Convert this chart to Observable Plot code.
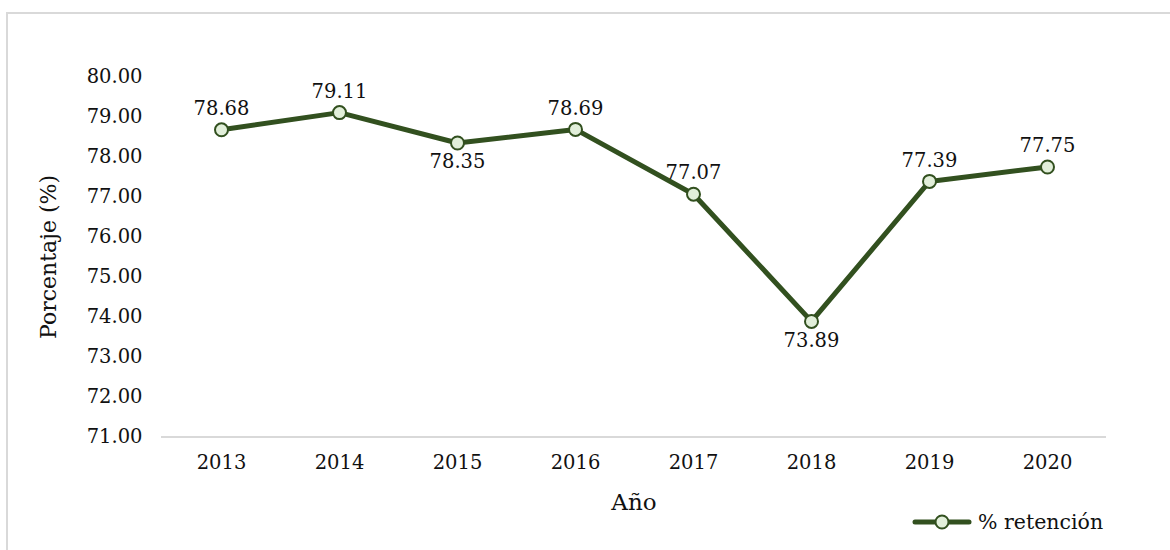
<!DOCTYPE html>
<html>
<head>
<meta charset="utf-8">
<script src="https://cdn.jsdelivr.net/npm/d3@7"></script>
<script src="https://cdn.jsdelivr.net/npm/@observablehq/plot@0.6"></script>
<style>
  body { margin: 0; background: #fff; }
  #wrap { position: relative; width: 1170px; height: 550px; overflow: hidden; font-family: "DejaVu Serif", serif; background: #fff; }
  #frame { position: absolute; left: 6px; top: 12px; width: 1400px; height: 800px; border: 2px solid #d9d9d9; box-sizing: border-box; }
  #chart { position: absolute; left: 0; top: 0; }
  #legend { position: absolute; left: 912px; top: 510px; display: flex; align-items: center; font-size: 20.5px; color: #111; white-space: nowrap; }
  #legend svg { margin-right: 6px; }
</style>
</head>
<body>
<div id="wrap">
  <div id="frame"></div>
  <div id="chart"></div>
  <div id="legend"></div>
</div>
<script>
const years = ["2013", "2014", "2015", "2016", "2017", "2018", "2019", "2020"];
const retention = [78.68, 79.11, 78.35, 78.69, 77.07, 73.89, 77.39, 77.75];
const labelSide = ["top", "top", "bottom", "top", "top", "bottom", "top", "top"];
const yTicks = [71, 72, 73, 74, 75, 76, 77, 78, 79, 80];
const seriesName = "% retención";
const xTitle = "Año";
const yTitle = "Porcentaje (%)";

const lineColor = "#32501f";
const markerFill = "#e2efda";

const data = years.map((year, i) => ({ year, value: retention[i], side: labelSide[i] }));

const chart = Plot.plot({
  width: 1170,
  height: 550,
  marginLeft: 161,
  marginRight: 64,
  marginTop: 76.5,
  marginBottom: 113.5,
  style: { fontFamily: "DejaVu Serif, serif", fontSize: "19.5px", color: "#111", background: "transparent", overflow: "visible" },
  x: { type: "point", domain: years, padding: 0.5 },
  y: { domain: [71, 80] },
  marks: [
    Plot.ruleY([71], { stroke: "#d9d9d9", strokeWidth: 2 }),
    Plot.axisY({ ticks: yTicks, tickSize: 0, tickPadding: 19, tickFormat: d => d.toFixed(2), label: null, fontSize: 19.5 }),
    Plot.axisX({ tickSize: 0, tickPadding: 18, label: null, fontSize: 19.5 }),
    Plot.text([xTitle], { frameAnchor: "bottom", dy: 66, lineAnchor: "middle", fontSize: 23, fill: "#111" }),
    Plot.text([yTitle], { frameAnchor: "left", dx: -113, rotate: -90, textAnchor: "middle", lineAnchor: "middle", fontSize: 22, fill: "#111" }),
    Plot.line(data, { x: "year", y: "value", stroke: lineColor, strokeWidth: 5, strokeLinejoin: "round" }),
    Plot.dot(data, { x: "year", y: "value", r: 6.5, fill: markerFill, stroke: lineColor, strokeWidth: 2 }),
    Plot.text(data.filter(d => d.side === "top"), { x: "year", y: "value", text: d => d.value.toFixed(2), dy: -21, fontSize: 19.5, fill: "#111" }),
    Plot.text(data.filter(d => d.side === "bottom"), { x: "year", y: "value", text: d => d.value.toFixed(2), dy: 19, fontSize: 19.5, fill: "#111" })
  ]
});
document.getElementById("chart").appendChild(chart);

const legend = document.getElementById("legend");
legend.innerHTML = `<svg width="60" height="20"><line x1="3" y1="10" x2="57" y2="10" stroke="${lineColor}" stroke-width="5" stroke-linecap="round"/><circle cx="30" cy="10" r="6.5" fill="${markerFill}" stroke="${lineColor}" stroke-width="2"/></svg><span>${seriesName}</span>`;
</script>
</body>
</html>
